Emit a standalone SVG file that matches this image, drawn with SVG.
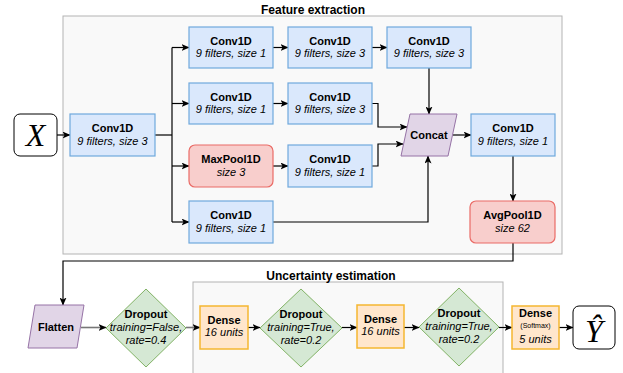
<svg xmlns="http://www.w3.org/2000/svg" width="623" height="373" viewBox="0 0 623 373">
<defs>
<marker id="arr" viewBox="0 0 8 7" markerWidth="8" markerHeight="7" refX="7.5" refY="3.5" orient="auto" markerUnits="userSpaceOnUse">
<path d="M0,0 L8,3.5 L0,7 L2,3.5 z" fill="#000"/>
</marker>
<style>
text{font-family:"Liberation Sans",Arial,sans-serif;font-size:11px;fill:#000;text-anchor:middle}
.b{font-weight:bold}
.i{font-style:italic}
.t{font-weight:bold;font-size:12px}
.s{font-size:7px}
.m{font-family:"Liberation Serif","Times New Roman",serif;font-style:italic;font-size:32px}
.grp{fill:#f9f9f9;stroke:#b3b3b3;stroke-width:1}
.blue{fill:#dae8fc;stroke:#6fa8dc;stroke-width:1.2}
.red{fill:#f8cecc;stroke:#ea6b66;stroke-width:1.2}
.pur{fill:#e1d5e7;stroke:#9673a6;stroke-width:1}
.grn{fill:#d5e8d4;stroke:#82b366;stroke-width:1}
.org{fill:#ffe6cc;stroke:#f5b731;stroke-width:1.5}
.wht{fill:#fff;stroke:#000;stroke-width:1}
.c{fill:none;stroke:#000;stroke-width:1.2;marker-end:url(#arr)}
.cn{fill:none;stroke:#000;stroke-width:1.2}
.g{fill:none;stroke:#777;stroke-width:1.6;marker-end:url(#arr)}
</style>
</defs>
<rect width="623" height="373" fill="#fff"/>

<g id="feature-extraction">
<rect class="grp" x="63" y="16" width="499" height="238"/>
<text class="t" x="313" y="14">Feature extraction</text>
</g>
<g id="uncertainty-estimation">
<rect class="grp" x="193" y="282" width="310" height="100"/>
<text class="t" x="331" y="280">Uncertainty estimation</text>
</g>

<g id="connectors">
<path class="c" d="M57,135 H70"/>
<path class="cn" d="M155,135 H172"/>
<path class="cn" d="M172,47.5 V222"/>
<path class="c" d="M172,47.5 H189"/>
<path class="c" d="M172,103.5 H189"/>
<path class="c" d="M172,166 H189"/>
<path class="c" d="M172,222 H189"/>
<path class="c" d="M273,47.5 H288"/>
<path class="c" d="M372,47.5 H387"/>
<path class="c" d="M273,103.5 H288"/>
<path class="c" d="M273,166 H288"/>
<path class="c" d="M429,68 V114"/>
<path class="c" d="M372,103.5 H378 V127 H407"/>
<path class="c" d="M372,166 H378 V144 H403"/>
<path class="c" d="M273,222 H428 V156"/>
<path class="c" d="M453,135 H471"/>
<path class="c" d="M513,156 V201"/>
<path class="c" d="M513,243 V261 H63 V305"/>
<path class="g" d="M81,327.5 H106"/>
<path class="g" d="M186,327.5 H200"/>
<path class="c" d="M248,327.5 H260"/>
<path class="c" d="M342,327.5 H357"/>
<path class="c" d="M404,327.5 H419"/>
<path class="c" d="M499,327.5 H512"/>
<path class="c" d="M559,327.5 H573"/>
</g>

<g id="x-input">
<rect class="wht" x="14" y="114" width="43" height="42" rx="6"/>
<text class="m" x="35.5" y="146">X</text>
</g>
<g id="conv-in">
<rect class="blue" x="70" y="114" width="85" height="42"/>
<text class="b" x="112.5" y="132">Conv1D</text>
<text class="i" x="112.5" y="144.5">9 filters, size 3</text>
</g>
<g id="conv-r1c1">
<rect class="blue" x="189" y="27" width="84" height="41"/>
<text class="b" x="231" y="45">Conv1D</text>
<text class="i" x="231" y="57">9 filters, size 1</text>
</g>
<g id="conv-r1c2">
<rect class="blue" x="288" y="27" width="84" height="41"/>
<text class="b" x="330" y="45">Conv1D</text>
<text class="i" x="330" y="57">9 filters, size 3</text>
</g>
<g id="conv-r1c3">
<rect class="blue" x="387" y="27" width="84" height="41"/>
<text class="b" x="429" y="45">Conv1D</text>
<text class="i" x="429" y="57">9 filters, size 3</text>
</g>
<g id="conv-r2c1">
<rect class="blue" x="189" y="83" width="84" height="41"/>
<text class="b" x="231" y="101">Conv1D</text>
<text class="i" x="231" y="113">9 filters, size 1</text>
</g>
<g id="conv-r2c2">
<rect class="blue" x="288" y="83" width="84" height="41"/>
<text class="b" x="330" y="101">Conv1D</text>
<text class="i" x="330" y="113">9 filters, size 3</text>
</g>
<g id="maxpool">
<rect class="red" x="189" y="145" width="84" height="42" rx="6"/>
<text class="b" x="231" y="163">MaxPool1D</text>
<text class="i" x="231" y="175.5">size 3</text>
</g>
<g id="conv-r3c2">
<rect class="blue" x="288" y="145" width="84" height="42"/>
<text class="b" x="330" y="163">Conv1D</text>
<text class="i" x="330" y="175.5">9 filters, size 1</text>
</g>
<g id="conv-r4c1">
<rect class="blue" x="189" y="201" width="84" height="42"/>
<text class="b" x="231" y="219">Conv1D</text>
<text class="i" x="231" y="231.5">9 filters, size 1</text>
</g>
<g id="concat">
<polygon class="pur" points="410,114 457,114 448,156 401,156"/>
<text class="b" x="429" y="139">Concat</text>
</g>
<g id="conv-out">
<rect class="blue" x="471" y="114" width="84" height="42"/>
<text class="b" x="513" y="132">Conv1D</text>
<text class="i" x="513" y="144.5">9 filters, size 1</text>
</g>
<g id="avgpool">
<rect class="red" x="470" y="201" width="85" height="42" rx="6"/>
<text class="b" x="512.5" y="219">AvgPool1D</text>
<text class="i" x="512.5" y="231.5">size 62</text>
</g>

<g id="flatten">
<polygon class="pur" points="35,305 84,305 77,348 28,348"/>
<text class="b" x="56" y="331">Flatten</text>
</g>
<g id="dropout1">
<polygon class="grn" points="146,289 186,328 146,367 106,328"/>
<text class="b" x="146" y="318">Dropout</text>
<text class="i" x="146" y="331">training=False,</text>
<text class="i" x="146" y="344">rate=0.4</text>
</g>
<g id="dense1">
<rect class="org" x="200" y="306" width="48" height="43"/>
<text class="b" x="224" y="324">Dense</text>
<text class="i" x="224" y="336">16 units</text>
</g>
<g id="dropout2">
<polygon class="grn" points="301,289 342,328 301,367 260,328"/>
<text class="b" x="301" y="318">Dropout</text>
<text class="i" x="301" y="331">training=True,</text>
<text class="i" x="301" y="344">rate=0.2</text>
</g>
<g id="dense2">
<rect class="org" x="357" y="305" width="47" height="43"/>
<text class="b" x="380.5" y="323">Dense</text>
<text class="i" x="380.5" y="335">16 units</text>
</g>
<g id="dropout3">
<polygon class="grn" points="459,288 499,327 459,366 419,327"/>
<text class="b" x="459" y="317">Dropout</text>
<text class="i" x="459" y="330">training=True,</text>
<text class="i" x="459" y="343">rate=0.2</text>
</g>
<g id="dense3">
<rect class="org" x="512" y="306" width="47" height="43"/>
<text class="b" x="535.5" y="317">Dense</text>
<text class="s" x="535.5" y="328">(Softmax)</text>
<text class="i" x="535.5" y="343">5 units</text>
</g>
<g id="y-output">
<rect class="wht" x="573" y="306" width="42" height="43" rx="6"/>
<text class="m" x="594" y="342">Ŷ</text>
</g>
</svg>
